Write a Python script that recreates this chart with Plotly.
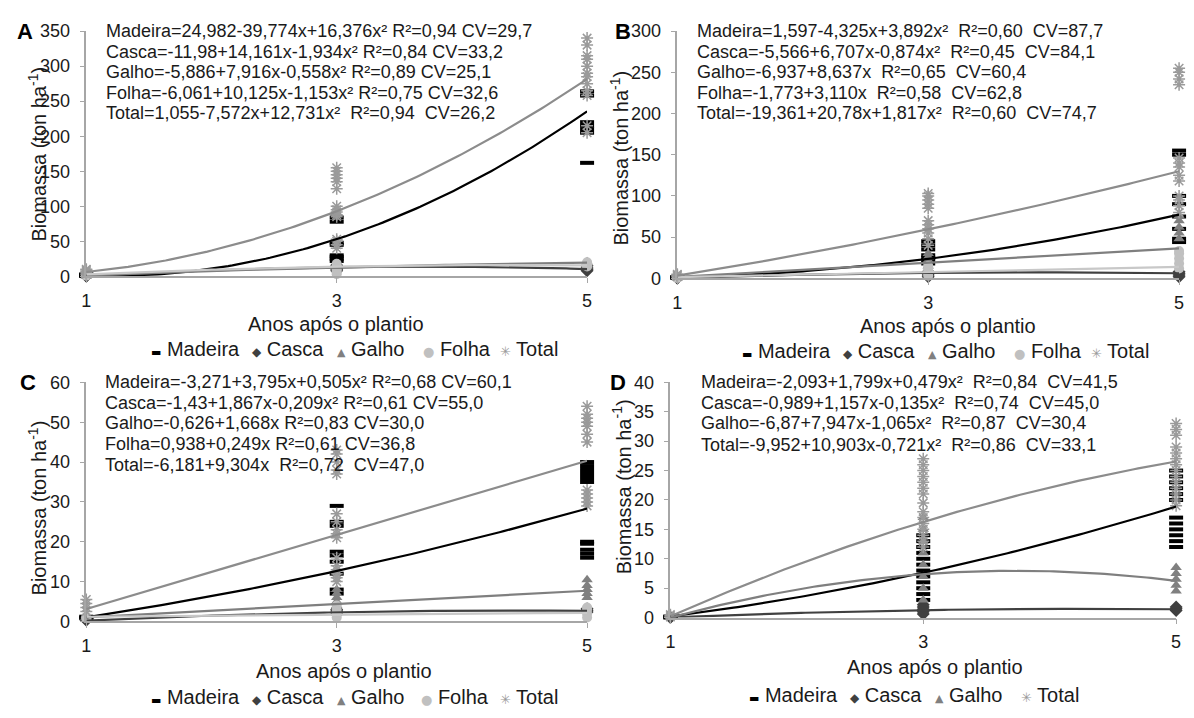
import numpy as np
import plotly.graph_objects as go

W, H = 1194, 718
FONT = "Liberation Sans, Arial, sans-serif"
INK = "#1a1a1a"
AXIS = "#a6a6a6"

YEARS = [1, 3, 5]

# ---- Biomass per plot (ton ha-1), grouped by year after planting (1, 3, 5) ----
A_MADEIRA = [[0.5, 1, 1.5, 2, 3], [22, 25, 28, 30, 45, 48, 78, 84], [162, 205, 210, 215, 220, 258, 264]]
A_CASCA = [[0.3, 0.6, 1], [8, 10, 12, 14, 16], [8, 10, 12, 15]]
A_GALHO = [[0.5, 1, 2], [10, 12, 15, 18], [15, 17, 19, 21]]
A_FOLHA = [[1, 2, 3], [3, 6, 10, 14, 18], [14, 16, 18, 20]]
A_TOTAL = [[3, 5, 7, 9, 10], [40, 45, 50, 53, 85, 88, 92, 95, 100, 125, 135, 140, 145, 150, 155],
           [205, 215, 258, 265, 275, 285, 290, 300, 310, 315, 330, 340]]

B_MADEIRA = [[0.5, 1, 1.5], [18, 22, 25, 28, 35, 40, 45], [44, 48, 60, 75, 90, 100, 150, 155]]
B_CASCA = [[0.2, 0.5], [2, 4, 6, 8], [2, 4, 6, 8]]
B_GALHO = [[0.5, 1, 2], [15, 18, 22, 26, 30], [48, 55, 62, 70, 76]]
B_FOLHA = [[0.3, 0.8], [3, 6, 9, 12, 15], [12, 18, 24, 30, 33]]
B_TOTAL = [[2, 3, 4, 5], [40, 48, 55, 60, 65, 70, 85, 90, 95, 100, 103],
           [80, 88, 95, 100, 118, 125, 135, 140, 146, 235, 242, 250, 255]]

C_MADEIRA = [[0.8, 1, 1.2], [7, 8, 12, 15, 16.5, 17.5, 24, 25, 29], [16, 17, 18, 19.5, 20, 35, 36, 37, 38, 39, 40]]
C_CASCA = [[0.3, 0.5], [1.8, 2.2, 2.6, 3], [2.4, 2.8, 3.2]]
C_GALHO = [[0.5, 1, 1.5], [3, 4, 5, 6, 7, 8], [6, 7, 8, 9, 10.5]]
C_FOLHA = [[0.8, 1.2], [1, 2, 3, 4], [1, 2, 3, 3.5]]
C_TOTAL = [[2.5, 3.5, 4.5, 5.5], [10, 11, 12, 13, 14, 16, 21, 22, 23, 25, 27, 37, 38, 40, 42, 43],
           [29, 30, 31, 32, 33, 45, 47, 49, 50, 51, 52, 54]]

D_MADEIRA = [[0, 0.1, 0.2], [3, 4, 5, 6, 7, 8, 9, 10, 11, 12, 13, 14], [12, 13, 14, 15, 16, 17, 20, 21, 22, 23, 24, 25]]
D_CASCA = [[0, 0.05], [0.6, 1, 1.4, 1.8, 2.2], [1.2, 1.5, 1.8]]
D_GALHO = [[0, 0.1], [3, 5, 7, 9, 11, 13, 15, 17], [4.5, 5.5, 6.5, 7.5, 8.5]]
D_TOTAL = [[0.1, 0.3, 0.5], [12, 13, 14, 15, 16, 17, 18, 19.5, 21, 22, 23, 24, 25, 26, 27],
           [19, 20, 21, 22, 23, 24, 25, 26, 27, 28, 29, 31, 32, 33]]

# ---- Fitted regression coefficients (b0, b1, b2) ----
A_FIT_MADEIRA = [24.982, -39.774, 16.376]
A_FIT_CASCA = [-11.98, 14.161, -1.934]
A_FIT_GALHO = [-5.886, 7.916, -0.558]
A_FIT_FOLHA = [-6.061, 10.125, -1.153]
A_FIT_TOTAL = [1.055, -7.572, 12.731]

B_FIT_MADEIRA = [1.597, -4.325, 3.892]
B_FIT_CASCA = [-5.566, 6.707, -0.874]
B_FIT_GALHO = [-6.937, 8.637, 0.0]
B_FIT_FOLHA = [-1.773, 3.110, 0.0]
B_FIT_TOTAL = [-19.361, 20.78, 1.817]

C_FIT_MADEIRA = [-3.271, 3.795, 0.505]
C_FIT_CASCA = [-1.43, 1.867, -0.209]
C_FIT_GALHO = [-0.626, 1.668, 0.0]
C_FIT_FOLHA = [0.938, 0.249, 0.0]
C_FIT_TOTAL = [-6.181, 9.304, 0.0]

D_FIT_MADEIRA = [-2.093, 1.799, 0.479]
D_FIT_CASCA = [-0.989, 1.157, -0.135]
D_FIT_GALHO = [-6.87, 7.947, -1.065]
D_FIT_TOTAL = [-9.952, 10.903, -0.721]

NB = "\u00a0"
A_EQ = ["Madeira=24,982-39,774x+16,376x² R²=0,94 CV=29,7",
        "Casca=-11,98+14,161x-1,934x² R²=0,84 CV=33,2",
        "Galho=-5,886+7,916x-0,558x² R²=0,89 CV=25,1",
        "Folha=-6,061+10,125x-1,153x² R²=0,75 CV=32,6",
        f"Total=1,055-7,572x+12,731x² {NB}R²=0,94 {NB}CV=26,2"]
B_EQ = [f"Madeira=1,597-4,325x+3,892x² {NB}R²=0,60 {NB}CV=87,7",
        f"Casca=-5,566+6,707x-0,874x² {NB}R²=0,45 {NB}CV=84,1",
        f"Galho=-6,937+8,637x {NB}R²=0,65 {NB}CV=60,4",
        f"Folha=-1,773+3,110x {NB}R²=0,58 {NB}CV=62,8",
        f"Total=-19,361+20,78x+1,817x² {NB}R²=0,60 {NB}CV=74,7"]
C_EQ = ["Madeira=-3,271+3,795x+0,505x² R²=0,68 CV=60,1",
        "Casca=-1,43+1,867x-0,209x² R²=0,61 CV=55,0",
        "Galho=-0,626+1,668x R²=0,83 CV=30,0",
        "Folha=0,938+0,249x R²=0,61 CV=36,8",
        f"Total=-6,181+9,304x {NB}R²=0,72 {NB}CV=47,0"]
D_EQ = [f"Madeira=-2,093+1,799x+0,479x² {NB}R²=0,84 {NB}CV=41,5",
        f"Casca=-0,989+1,157x-0,135x² {NB}R²=0,74 {NB}CV=45,0",
        f"Galho=-6,87+7,947x-1,065x² {NB}R²=0,87 {NB}CV=30,4",
        f"Total=-9,952+10,903x-0,721x² {NB}R²=0,86 {NB}CV=33,1"]

# ---- Styling ----
MARKERS = {
    "Madeira": dict(symbol="line-ew", size=10, color="#000000", line=dict(width=4, color="#000000")),
    "Casca": dict(symbol="diamond", size=10, color="#404040", line=dict(width=0)),
    "Galho": dict(symbol="triangle-up", size=10, color="#808080", line=dict(width=0)),
    "Folha": dict(symbol="circle", size=10, color="#c0c0c0", line=dict(width=0)),
    "Total": dict(symbol="asterisk-open", size=10, color="#9a9a9a", line=dict(width=1.5, color="#9a9a9a")),
}
TREND = {"Madeira": "#000000", "Casca": "#404040", "Galho": "#7f7f7f", "Folha": "#c8c8c8", "Total": "#8c8c8c"}
GLYPH = {
    "Madeira": ("▬", "#000000", 11),
    "Casca": ("◆", "#404040", 12),
    "Galho": ("▲", "#808080", 11),
    "Folha": ("●", "#c0c0c0", 13),
    "Total": ("✳", "#9a9a9a", 13),
}


def fx(x):
    return x / W


def fy(y):
    return 1 - y / H


panels = [
    dict(tag="A", ax="", ymax=350, dtick=50, box=(82, 587, 21.7, 274),
         series=[("Madeira", A_MADEIRA, A_FIT_MADEIRA), ("Casca", A_CASCA, A_FIT_CASCA),
                 ("Galho", A_GALHO, A_FIT_GALHO), ("Folha", A_FOLHA, A_FIT_FOLHA),
                 ("Total", A_TOTAL, A_FIT_TOTAL)],
         eq=A_EQ, eq_x=100, eq_y=[22, 43, 64, 85, 106],
         letter=(20, 22), ytitle=(33, 148), xtitle=(334, 323),
         legend_x=[145, 247, 333, 420, 497], legend_y=349),
    dict(tag="B", ax="2", ymax=300, dtick=50, box=(678, 1184, 21.7, 276),
         series=[("Madeira", B_MADEIRA, B_FIT_MADEIRA), ("Casca", B_CASCA, B_FIT_CASCA),
                 ("Galho", B_GALHO, B_FIT_GALHO), ("Folha", B_FOLHA, B_FIT_FOLHA),
                 ("Total", B_TOTAL, B_FIT_TOTAL)],
         eq=B_EQ, eq_x=696, eq_y=[22, 43, 64, 85, 106],
         letter=(623, 22), ytitle=(620, 152), xtitle=(951, 325),
         legend_x=[741, 843, 929, 1016, 1093], legend_y=351),
    dict(tag="C", ax="3", ymax=60, dtick=10, box=(82, 587, 383, 629),
         series=[("Madeira", C_MADEIRA, C_FIT_MADEIRA), ("Casca", C_CASCA, C_FIT_CASCA),
                 ("Galho", C_GALHO, C_FIT_GALHO), ("Folha", C_FOLHA, C_FIT_FOLHA),
                 ("Total", C_TOTAL, C_FIT_TOTAL)],
         eq=C_EQ, eq_x=99, eq_y=[383, 404, 425, 446, 468],
         letter=(23, 383), ytitle=(33, 512), xtitle=(342, 680),
         legend_x=[145, 247, 333, 418, 497], legend_y=707),
    dict(tag="D", ax="4", ymax=40, dtick=5, box=(671, 1181, 383, 625),
         series=[("Madeira", D_MADEIRA, D_FIT_MADEIRA), ("Casca", D_CASCA, D_FIT_CASCA),
                 ("Galho", D_GALHO, D_FIT_GALHO), ("Total", D_TOTAL, D_FIT_TOTAL)],
         eq=D_EQ, eq_x=700, eq_y=[383, 404, 425, 447],
         letter=(618, 383), ytitle=(622, 490), xtitle=(938, 676),
         legend_x=[748, 850, 936, 1023], legend_y=705),
]

fig = go.Figure()
annotations = []
layout_axes = {}
xs_fit = np.linspace(1, 5, 121)

for p in panels:
    xa, ya = "x" + p["ax"], "y" + p["ax"]
    left, right, top, bottom = p["box"]

    # observed points
    for name, groups, _ in p["series"]:
        xs, ys = [], []
        for yr, vals in zip(YEARS, groups):
            xs += [yr] * len(vals)
            ys += vals
        fig.add_trace(go.Scatter(x=xs, y=ys, mode="markers", marker=MARKERS[name],
                                 xaxis=xa, yaxis=ya, showlegend=False, cliponaxis=False,
                                 name=name))
    # fitted curves
    for name, _, coef in p["series"]:
        b0, b1, b2 = coef
        fig.add_trace(go.Scatter(x=xs_fit, y=b0 + b1 * xs_fit + b2 * xs_fit ** 2, mode="lines",
                                 line=dict(color=TREND[name], width=2.2),
                                 xaxis=xa, yaxis=ya, showlegend=False, hoverinfo="skip"))

    layout_axes["xaxis" + p["ax"]] = dict(
        domain=[fx(left), fx(right)], range=[1, 5], anchor=ya, tickvals=YEARS,
        ticktext=[str(v) for v in YEARS], showline=True, linecolor=AXIS, linewidth=1.5,
        ticks="outside", ticklen=5, tickcolor=AXIS, tickwidth=1.3, showgrid=False,
        zeroline=False, tickfont=dict(family=FONT, size=18, color=INK), ticklabelstandoff=2)
    layout_axes["yaxis" + p["ax"]] = dict(
        domain=[fy(bottom), fy(top)], range=[0, p["ymax"]], dtick=p["dtick"], anchor=xa,
        showline=True, linecolor=AXIS, linewidth=1.5, ticks="outside", ticklen=5,
        tickcolor=AXIS, tickwidth=1.3, showgrid=False, zeroline=False,
        tickfont=dict(family=FONT, size=18, color=INK), ticklabelstandoff=6)

    # regression equations
    for line, yy in zip(p["eq"], p["eq_y"]):
        annotations.append(dict(text=line, x=fx(p["eq_x"]), y=fy(yy), xref="paper", yref="paper",
                                xanchor="left", yanchor="middle", showarrow=False,
                                font=dict(family=FONT, size=18, color=INK)))
    # panel letter
    annotations.append(dict(text="<b>%s</b>" % p["tag"], x=fx(p["letter"][0]), y=fy(p["letter"][1]),
                            xref="paper", yref="paper", xanchor="center", yanchor="middle",
                            showarrow=False, font=dict(family=FONT, size=22, color="#000")))
    # axis titles
    annotations.append(dict(text="Biomassa (ton ha<sup>-1</sup>)", x=fx(p["ytitle"][0]),
                            y=fy(p["ytitle"][1]), xref="paper", yref="paper", textangle=-90,
                            xanchor="center", yanchor="middle", showarrow=False,
                            font=dict(family=FONT, size=20, color=INK)))
    annotations.append(dict(text="Anos após o plantio", x=fx(p["xtitle"][0]), y=fy(p["xtitle"][1]),
                            xref="paper", yref="paper", xanchor="center", yanchor="middle",
                            showarrow=False, font=dict(family=FONT, size=20, color=INK)))
    # legend row
    for (name, _, _), lx in zip(p["series"], p["legend_x"]):
        g, col, gs = GLYPH[name]
        annotations.append(dict(
            text=f'<span style="color:{col};font-size:{gs}px;font-family:DejaVu Sans">{g}</span> {name}',
            x=fx(lx), y=fy(p["legend_y"]), xref="paper", yref="paper", xanchor="left",
            yanchor="middle", showarrow=False, font=dict(family=FONT, size=20, color=INK)))

fig.update_layout(
    width=W, height=H, margin=dict(l=0, r=0, t=0, b=0),
    paper_bgcolor="white", plot_bgcolor="white", showlegend=False,
    annotations=annotations, **layout_axes)

fig.write_html("out.html")
